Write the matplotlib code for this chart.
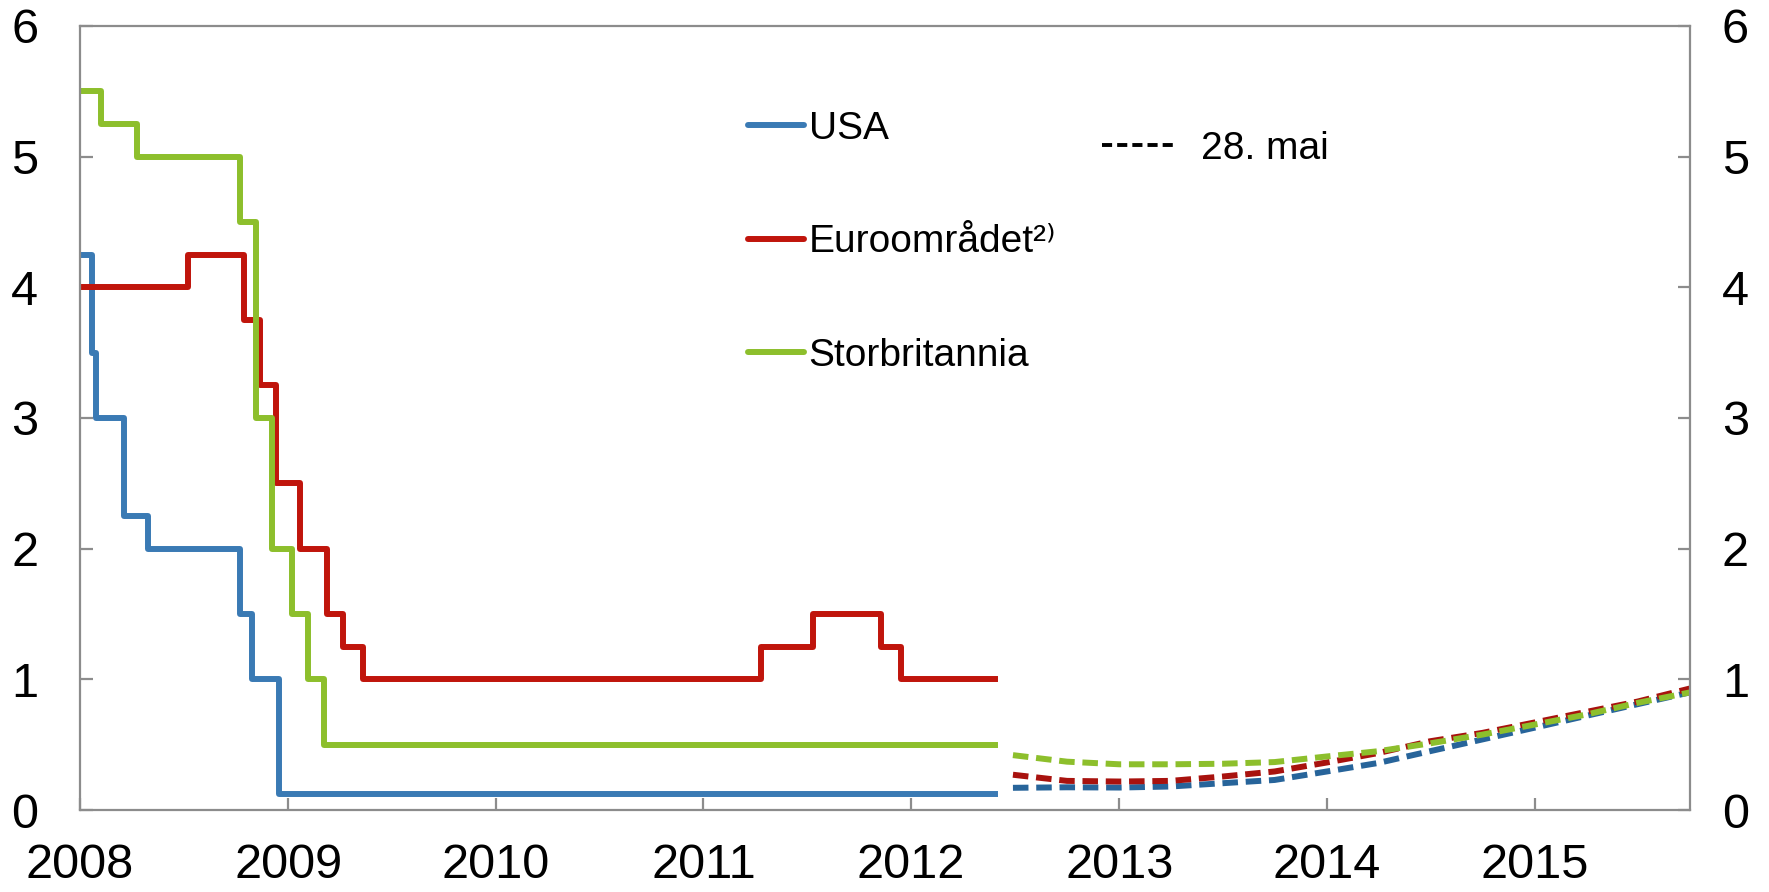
import matplotlib
matplotlib.use("Agg")
import matplotlib.pyplot as plt
import matplotlib.dates as mdates
from matplotlib.lines import Line2D
import pandas as pd

plt.rcParams['font.family'] = ['Liberation Sans', 'DejaVu Sans']

# Policy rates (step changes), end of history 28 May 2012
usa_dates = ["2008-01-01", "2008-01-22", "2008-01-30", "2008-03-18", "2008-04-30",
             "2008-10-08", "2008-10-29", "2008-12-16", "2012-05-28"]
usa_rates = [4.25, 3.5, 3.0, 2.25, 2.0, 1.5, 1.0, 0.125, 0.125]

euro_dates = ["2008-01-01", "2008-07-09", "2008-10-15", "2008-11-12", "2008-12-10",
              "2009-01-21", "2009-03-11", "2009-04-08", "2009-05-13", "2011-04-13",
              "2011-07-13", "2011-11-09", "2011-12-14", "2012-05-28"]
euro_rates = [4.0, 4.25, 3.75, 3.25, 2.5, 2.0, 1.5, 1.25, 1.0, 1.25, 1.5, 1.25, 1.0, 1.0]

uk_dates = ["2008-01-01", "2008-02-07", "2008-04-10", "2008-10-08", "2008-11-06",
            "2008-12-04", "2009-01-08", "2009-02-05", "2009-03-05", "2012-05-28"]
uk_rates = [5.5, 5.25, 5.0, 4.5, 3.0, 2.0, 1.5, 1.0, 0.5, 0.5]

# Market-implied forward rates, 28. mai
fwd_dates = ["2012-06-28", "2012-10-01", "2013-01-01", "2013-04-01", "2013-07-01",
             "2013-10-01", "2014-01-01", "2014-04-01", "2014-07-01", "2014-10-01",
             "2015-01-01", "2015-04-01", "2015-07-01", "2015-10-01"]
usa_fwd = [0.17, 0.174, 0.172, 0.18, 0.205, 0.23, 0.295, 0.36, 0.45, 0.54, 0.63, 0.72, 0.81, 0.90]
euro_fwd = [0.27, 0.223, 0.218, 0.223, 0.256, 0.295, 0.364, 0.436, 0.526, 0.59, 0.67, 0.75, 0.83, 0.93]
uk_fwd = [0.42, 0.37, 0.35, 0.35, 0.354, 0.367, 0.41, 0.45, 0.51, 0.577, 0.654, 0.73, 0.82, 0.90]

blue, red, green = "#3A7AB4", "#C0150C", "#8DBF2C"
blue_d, red_d, green_d = "#27649A", "#A8120E", "#8DBF2C"
gray = "#8C8C8C"
lw = 4.3

fig = plt.figure(figsize=(17.69, 8.92), dpi=100)
ax = fig.add_axes([0.0452, 0.0919, 0.9101, 0.879])

ax.plot(pd.to_datetime(usa_dates), usa_rates, drawstyle="steps-post", color=blue, lw=lw)
ax.plot(pd.to_datetime(euro_dates), euro_rates, drawstyle="steps-post", color=red, lw=lw)
ax.plot(pd.to_datetime(uk_dates), uk_rates, drawstyle="steps-post", color=green, lw=lw)

dash = (2.6, 1.3)
fd = pd.to_datetime(fwd_dates)
ax.plot(fd, usa_fwd, color=blue_d, lw=lw, dashes=dash)
ax.plot(fd, euro_fwd, color=red_d, lw=lw, dashes=dash)
ax.plot(fd, uk_fwd, color=green_d, lw=lw, dashes=dash)

ax.set_xlim(pd.Timestamp("2008-01-01"), pd.Timestamp("2015-10-01"))
ax.set_ylim(0, 6)
ax.set_yticks(range(0, 7))
ax.xaxis.set_major_locator(mdates.YearLocator())
ax.xaxis.set_major_formatter(mdates.DateFormatter("%Y"))

for s in ax.spines.values():
    s.set_color(gray)
    s.set_linewidth(1.6)
ax.tick_params(axis="x", direction="in", length=9, width=1.6, color=gray,
               labelsize=35, pad=24)
ax.tick_params(axis="y", direction="in", length=9, width=1.6, color=gray,
               labelsize=35, pad=30)

# right-hand axis with the same scale
ax2 = ax.twinx()
ax2.set_ylim(0, 6)
ax2.set_yticks(range(0, 7))
for s in ax2.spines.values():
    s.set_visible(False)
ax2.tick_params(axis="y", direction="in", length=9, width=1.6, color=gray,
                labelsize=35, pad=23)

handles = [Line2D([], [], color=blue, lw=lw, solid_capstyle="round"),
           Line2D([], [], color=red, lw=lw, solid_capstyle="round"),
           Line2D([], [], color=green, lw=lw, solid_capstyle="round")]
leg1 = ax.legend(handles, ["USA", "Euroområdet²⁾", "Storbritannia"],
                 loc="upper left", bbox_to_anchor=(0.405, 0.912), frameon=False,
                 fontsize=28, handlelength=1.45, handletextpad=0.12, labelspacing=2.0,
                 borderaxespad=0)
ax.add_artist(leg1)
ax.legend([Line2D([], [], color="black", lw=2.8, dashes=(2.6, 1.3))], ["28. mai"],
          loc="upper left", bbox_to_anchor=(0.625, 0.886), frameon=False,
          fontsize=28, handlelength=1.9, handletextpad=0.65, borderaxespad=0)

fig.savefig("out.png", dpi=100)
